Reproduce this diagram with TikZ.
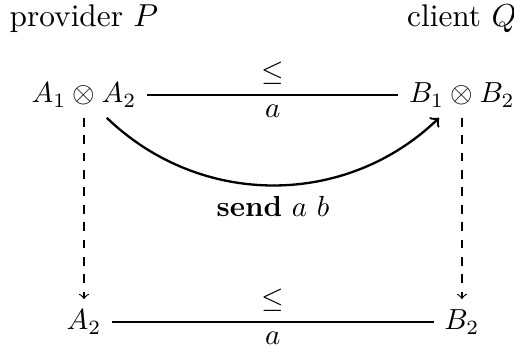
\documentclass[tikz,border=0pt]{standalone}
\begin{document}
\begin{tikzpicture}[
        every node/.style={font=\normalsize},
        typenode/.style={inner sep=3.5pt},
        headnode/.style={anchor=base, font=\fontsize{10.8}{13}\selectfont},
        projline/.style={->, dashed},
        sendline/.style={->, thick}
    ]
        \useasboundingbox (0,0) rectangle (6.229,-4.205);

        % Roles
        \node[headnode] (prov) at (1.018,-0.327){provider $P$};
        \node[headnode] (cli) at (5.598,-0.327){client $Q$};

        % Types before the send
        \node[typenode] (tl) at (1.018,-1.151){$A_1 \otimes A_2$};
        \node[typenode] (tr) at (5.598,-1.151){$B_1 \otimes B_2$};

        % Types after the send
        \node[typenode] (bl) at (1.018,-3.902){$A_2$};
        \node[typenode] (br) at (5.598,-3.902){$B_2$};

        % Subtyping
        \draw (tl) -- node[above]{$\leq$} node[below]{$a$} (tr);
        \draw (bl) -- node[above]{$\leq$} node[below]{$a$} (br);

        % Continuations
        \draw[projline] (tl) -- (bl);
        \draw[projline] (tr) -- (br);

        % Message
        \draw[sendline] (tl.-45) to[out=-44, in=-136]
            node[below]{\textbf{send} $a$ $b$} (tr.-135);
\end{tikzpicture}
\end{document}
